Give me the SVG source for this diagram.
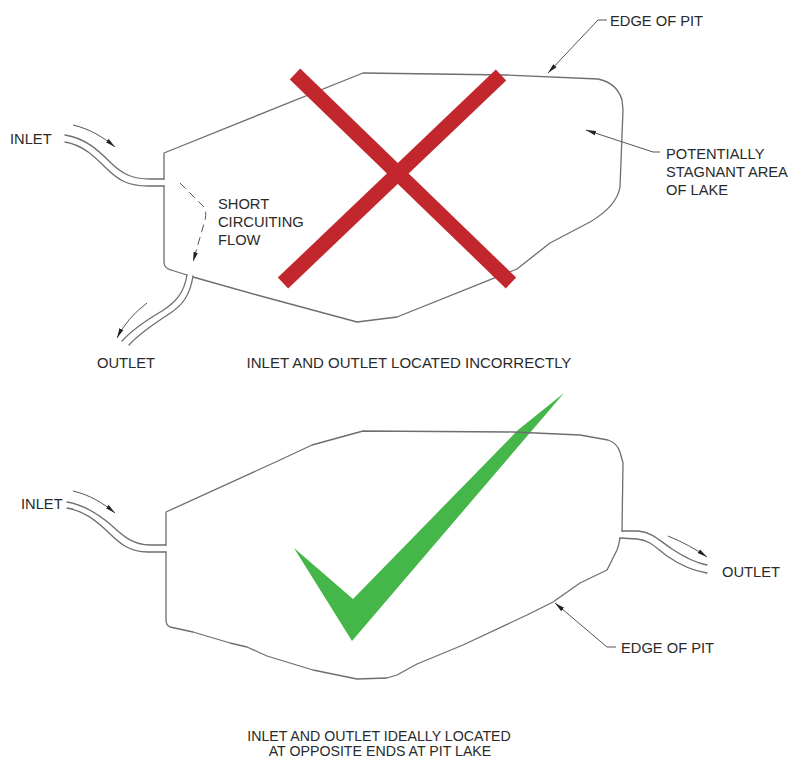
<svg xmlns="http://www.w3.org/2000/svg" width="793" height="764" viewBox="0 0 793 764">
<defs>
<style>
.ln{fill:none;stroke:#6e6e6e;stroke-width:1.3;stroke-linejoin:round;stroke-linecap:round}
.ar{fill:none;stroke:#555;stroke-width:1;marker-end:url(#ah)}
.dash{fill:none;stroke:#555;stroke-width:1;stroke-dasharray:8,5;marker-end:url(#ah)}
.t{font-family:"Liberation Sans",Arial,sans-serif;font-size:14.7px;fill:#2a2a2a}
.cap{font-family:"Liberation Sans",Arial,sans-serif;font-size:15px;fill:#2a2a2a;text-anchor:middle}
.cap2{font-family:"Liberation Sans",Arial,sans-serif;font-size:14.2px;fill:#2a2a2a;text-anchor:middle}
</style>
<marker id="ah" markerUnits="userSpaceOnUse" markerWidth="12" markerHeight="8" refX="10" refY="3" orient="auto">
<path d="M0,0.8 L10,3 L0,5.2 Z" fill="#222"/>
</marker>
</defs>

<g id="pit-top">
<path class="ln" d="M164,179 L164,153 L363,73 L507,75 L598,79 Q617,83 622,100 L623,110 L620,187 Q617,206 590,222 L550,243 L517,269 L397,317 L357,322 L257,295 L193,277"/>
<path class="ln" d="M187,275 L171,270 Q164,268 164,262 L164,186"/>
</g>
<g id="inlet-top">
<path class="ln" d="M65,135 C85,138 98,150 110,162 C122,174 132,179 150,179 L164,179"/>
<path class="ln" d="M65,142 C83,145 95,157 106,168 C118,180 128,186 148,186 L164,186"/>
<text class="t" x="10" y="144">INLET</text>
</g>
<g id="outlet-top">
<path class="ln" d="M187,275 C184,293 176,302 162,311 C145,321 132,330 122,341"/>
<path class="ln" d="M193,276 C190,295 183,305 169,314 C152,325 139,334 129,345"/>
<text class="t" x="97" y="368">OUTLET</text>
</g>
<g id="short-circuit-label">
<text class="t" x="218" y="209">SHORT</text>
<text class="t" x="218" y="227">CIRCUITING</text>
<text class="t" x="218" y="245">FLOW</text>
</g>
<g id="edge-label-top">
<text class="t" x="610" y="26">EDGE OF PIT</text>
</g>
<g id="stagnant-label">
<text class="t" x="666" y="159">POTENTIALLY</text>
<text class="t" x="666" y="177">STAGNANT AREA</text>
<text class="t" x="666" y="195">OF LAKE</text>
</g>
<g id="red-x">
<line x1="295" y1="74" x2="511" y2="283" stroke="#C1272D" stroke-width="15"/>
<line x1="501" y1="75" x2="283" y2="283" stroke="#C1272D" stroke-width="15"/>
</g>
<g id="caption-top">
<text class="cap" x="409" y="368">INLET AND OUTLET LOCATED INCORRECTLY</text>
</g>

<g id="check">
<path d="M294,548 L353,599 L518,430 L564,393 L352,641 Z" fill="#45B649"/>
</g>
<g id="pit-bottom">
<path class="ln" d="M166,545 L166,512 L280,460 L312,445 L363,431 L513,432 L580,435 L608,440 Q617,443 620,452 L623,463 L622,531"/>
<path class="ln" d="M620,538 Q619,545 617,550 L607,570 L580,583 L553,602 L527,615 L463,645 L417,664 L397,675 L387,678 L357,679 L313,670 L267,656 L247,647 L230,643 L193,632 L170,627 Q166,625 166,620 L166,552"/>
</g>
<g id="inlet-bottom">
<path class="ln" d="M67,502 C85,505 98,514 110,524 C122,535 132,545 150,545 L166,545"/>
<path class="ln" d="M67,508 C84,511 95,520 106,530 C118,542 128,552 148,552 L166,552"/>
<text class="t" x="21" y="509">INLET</text>
</g>
<g id="outlet-bottom">
<path class="ln" d="M622,531 L638,531 C652,532 660,541 672,549 C684,557 696,563 707,565"/>
<path class="ln" d="M620,538 L637,539 C650,540 656,548 667,556 C680,565 694,571 707,573"/>
<text class="t" x="722" y="577">OUTLET</text>
</g>
<g id="edge-label-bottom">
<text class="t" x="621" y="653">EDGE OF PIT</text>
</g>
<g id="caption-bottom">
<text class="cap2" x="379" y="741">INLET AND OUTLET IDEALLY LOCATED</text>
<text class="cap2" x="380" y="756">AT OPPOSITE ENDS AT PIT LAKE</text>
</g>

<g id="connectors">
<path class="ar" d="M73,125 C90,129 103,137 115,147"/>
<path class="ar" d="M147,303 Q127,318 117,338"/>
<path class="dash" d="M180,183 L204,207 Q207,212 205,220 L193,262"/>
<path class="ar" d="M607,20 L598,20 L548,73"/>
<path class="ar" d="M660,152 L653,152 L586,130"/>
<path class="ar" d="M73,491 C90,495 103,503 115,513"/>
<path class="ar" d="M668,536 Q690,545 707,557"/>
<path class="ar" d="M616,647 L607,647 L555,603"/>
</g>
</svg>
